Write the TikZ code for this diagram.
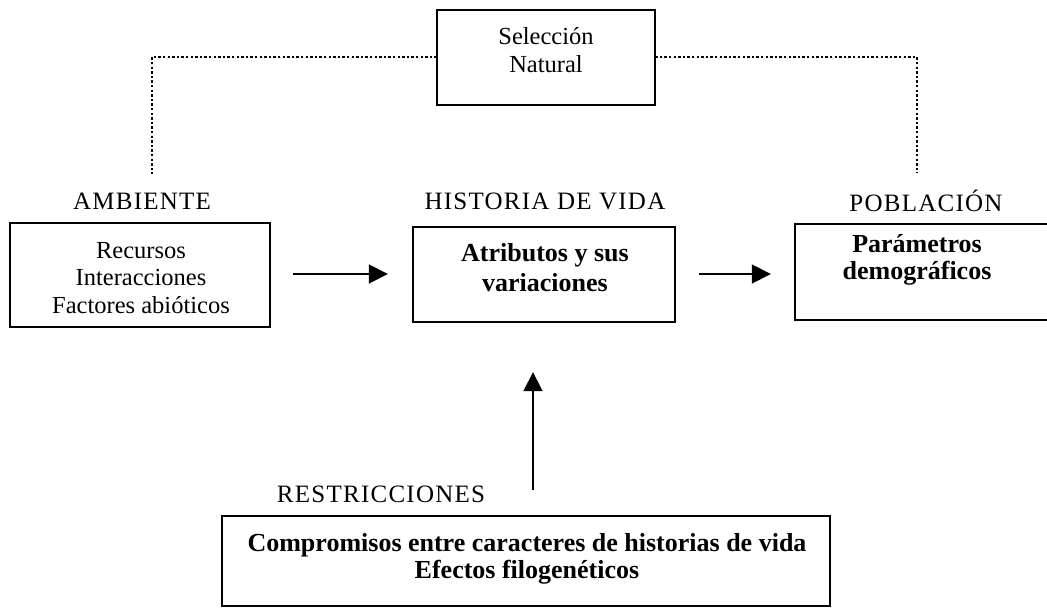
\documentclass[tikz,border=0pt]{standalone}
\usepackage{fontspec}
\setmainfont{Liberation Serif}
\newfontfamily\lblfont[LetterSpace=5]{Liberation Serif}
\usetikzlibrary{arrows.meta}
\begin{document}
\begin{tikzpicture}[x=1pt,y=-1pt,
  box/.style={draw,line width=1.8pt},
  lbl/.style={font=\lblfont\fontsize{25}{28}\selectfont},
  body/.style={font=\fontsize{24.5}{27.5}\selectfont,align=center},
  bbody/.style={font=\bfseries\fontsize{26}{30}\selectfont,align=center},
  dots/.style={line width=2.6pt,dash pattern=on 2.4pt off 2.2pt},
  arr/.style={line width=1.8pt,-{Triangle[length=19pt,width=19pt]}}]
\useasboundingbox (0,0) rectangle (1047,608);
% boxes
\draw[box] (437,10) rectangle (655,105);
\node (sel) at (546,57.5) [minimum width=218pt,minimum height=95pt] {};
\node[body] (seltxt) at (546,50) {\fontsize{24.5}{30}\selectfont Selección\\Natural};
\draw[box] (10,223) rectangle (270,327);
\node (amb) at (140,275) [minimum width=260pt,minimum height=104pt] {};
\node[body] (ambtxt) at (141,278) {Recursos\\Interacciones\\Factores abióticos};
\draw[box] (413,227) rectangle (675,322);
\node (hist) at (544,274.5) [minimum width=262pt,minimum height=95pt] {};
\node[bbody] (histtxt) at (545,268) {Atributos y sus\\variaciones};
\draw[box] (1052,224) -- (795,224) -- (795,320) -- (1052,320);
\node (pob) at (921,272) [minimum width=252pt,minimum height=96pt] {};
\node[bbody,font=\bfseries\fontsize{26}{27}\selectfont] (pobtxt) at (917,260) {Parámetros\\demográficos};
\draw[box] (222,516) rectangle (830,606);
\node (res) at (526,561) [minimum width=608pt,minimum height=90pt] {};
\node[bbody,font=\bfseries\fontsize{26}{27}\selectfont] (restxt) at (527,559) {Compromisos entre caracteres de historias de vida\\Efectos filogenéticos};
% labels
\node[lbl] (ambl) at (142,201) {AMBIENTE};
\node[lbl] (histl) at (545,201) {HISTORIA DE VIDA};
\node[lbl] (pobl) at (926,201) {POBLACIÓN};
\node[lbl] (resl) at (381,494) {RESTRICCIONES};
% dotted connectors
\coordinate (dl) at (152,174);
\coordinate (dr) at (917,173);
\draw[dots] (sel.west |- 0,57) -| (dl);
\draw[dots] (sel.east |- 0,57) -| (dr);
% arrows
\coordinate (a1s) at (293,274);
\coordinate (a2s) at (699,274);
\coordinate (a3s) at (533,490);
\draw[arr] (a1s) -- ([xshift=-25pt]hist.west |- a1s);
\draw[arr] (a2s) -- ([xshift=-24pt]pob.west |- a2s);
\draw[arr] (a3s) -- ([yshift=-50pt]hist.south -| a3s);
\end{tikzpicture}
\end{document}
